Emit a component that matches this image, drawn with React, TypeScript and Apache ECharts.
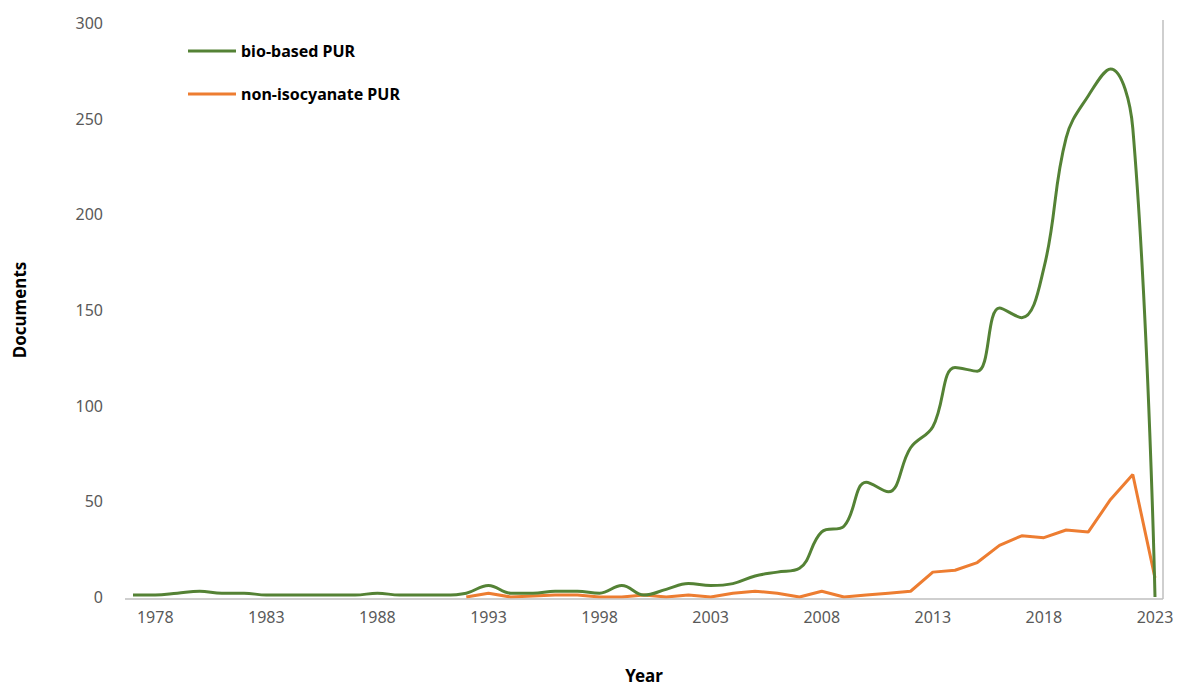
import React, { useEffect, useRef } from "react";
import * as echarts from "echarts";

const years: string[] = [];
for (let y = 1977; y <= 2023; y++) years.push(String(y));

const bioBased = [
  1, 1, 2, 3, 2, 2, 1, 1, 1, 1, 1, 2, 1, 1, 1, 2, 6, 2, 2, 3, 3, 2, 6, 1, 4, 7, 6, 7, 11, 13, 15,
  34, 37, 60, 55, 78, 89, 120, 118, 151, 146, 172, 240, 262, 276, 245, 0,
];

const nonIsocyanate: (number | null)[] = [
  null, null, null, null, null, null, null, null, null, null, null, null, null, null, null,
  0, 2, 0, 0.5, 1, 1, 0, 0, 1, 0, 1, 0, 2, 3, 2, 0, 3, 0, 1, 2, 3, 13, 14, 18, 27, 32, 31, 35,
  34, 51, 64, 10,
];

const seriesNames = ["bio-based PUR", "non-isocyanate PUR"];

export default function App() {
  const ref = useRef<HTMLDivElement>(null);
  useEffect(() => {
    if (!ref.current) return;
    const chart = echarts.init(ref.current, null, { renderer: "svg" });
    const font = "'Noto Sans', 'Open Sans', sans-serif";
    chart.setOption({
      animation: false,
      backgroundColor: "#ffffff",
      textStyle: { fontFamily: font },
      grid: { left: 133, right: 23, top: 23, bottom: 90, containLabel: false },
      graphic: [
        {
          type: "line",
          shape: { x1: 125, y1: 599, x2: 1163, y2: 599 },
          style: { stroke: "#bfbfbf", lineWidth: 1.5 },
          z: 0,
        },
        {
          type: "line",
          shape: { x1: 1163, y1: 20, x2: 1163, y2: 599 },
          style: { stroke: "#bfbfbf", lineWidth: 1.5 },
          z: 0,
        },
      ],
      legend: {
        orient: "vertical",
        left: 183,
        top: 38,
        itemWidth: 48,
        itemHeight: 3,
        itemGap: 27,
        icon: "rect",
        textStyle: { fontSize: 16, fontWeight: "bold", color: "#000", fontFamily: font },
        data: seriesNames,
      },
      xAxis: {
        type: "category",
        data: years,
        boundaryGap: false,
        axisLine: { show: false },
        axisTick: { show: false },
        axisLabel: {
          interval: (i: number) => (i - 1) % 5 === 0,
          color: "#595959",
          fontSize: 16,
          margin: 12,
          fontFamily: font,
        },
        name: "Year",
        nameLocation: "middle",
        nameGap: 70,
        nameTextStyle: { fontSize: 17, fontWeight: "bold", color: "#000", fontFamily: font },
      },
      yAxis: {
        type: "value",
        min: 0,
        max: 300,
        interval: 50,
        splitLine: { show: false },
        axisLine: { show: false },
        axisTick: { show: false },
        axisLabel: { color: "#595959", fontSize: 16, margin: 30, fontFamily: font },
        name: "Documents",
        nameLocation: "middle",
        nameGap: 105,
        nameTextStyle: { fontSize: 17, fontWeight: "bold", color: "#000", fontFamily: font },
      },
      series: [
        {
          name: seriesNames[0],
          type: "line",
          data: bioBased,
          smooth: 0.4,
          symbol: "none",
          lineStyle: { color: "#548235", width: 3 },
          itemStyle: { color: "#548235" },
          z: 3,
        },
        {
          name: seriesNames[1],
          type: "line",
          data: nonIsocyanate,
          smooth: false,
          symbol: "none",
          lineStyle: { color: "#ED7D31", width: 3 },
          itemStyle: { color: "#ED7D31" },
          z: 2,
        },
      ],
    });
    return () => chart.dispose();
  }, []);
  return (
    <div
      ref={ref}
      style={{ position: "absolute", left: 0, top: 0, width: 1178, height: 689 }}
    />
  );
}
